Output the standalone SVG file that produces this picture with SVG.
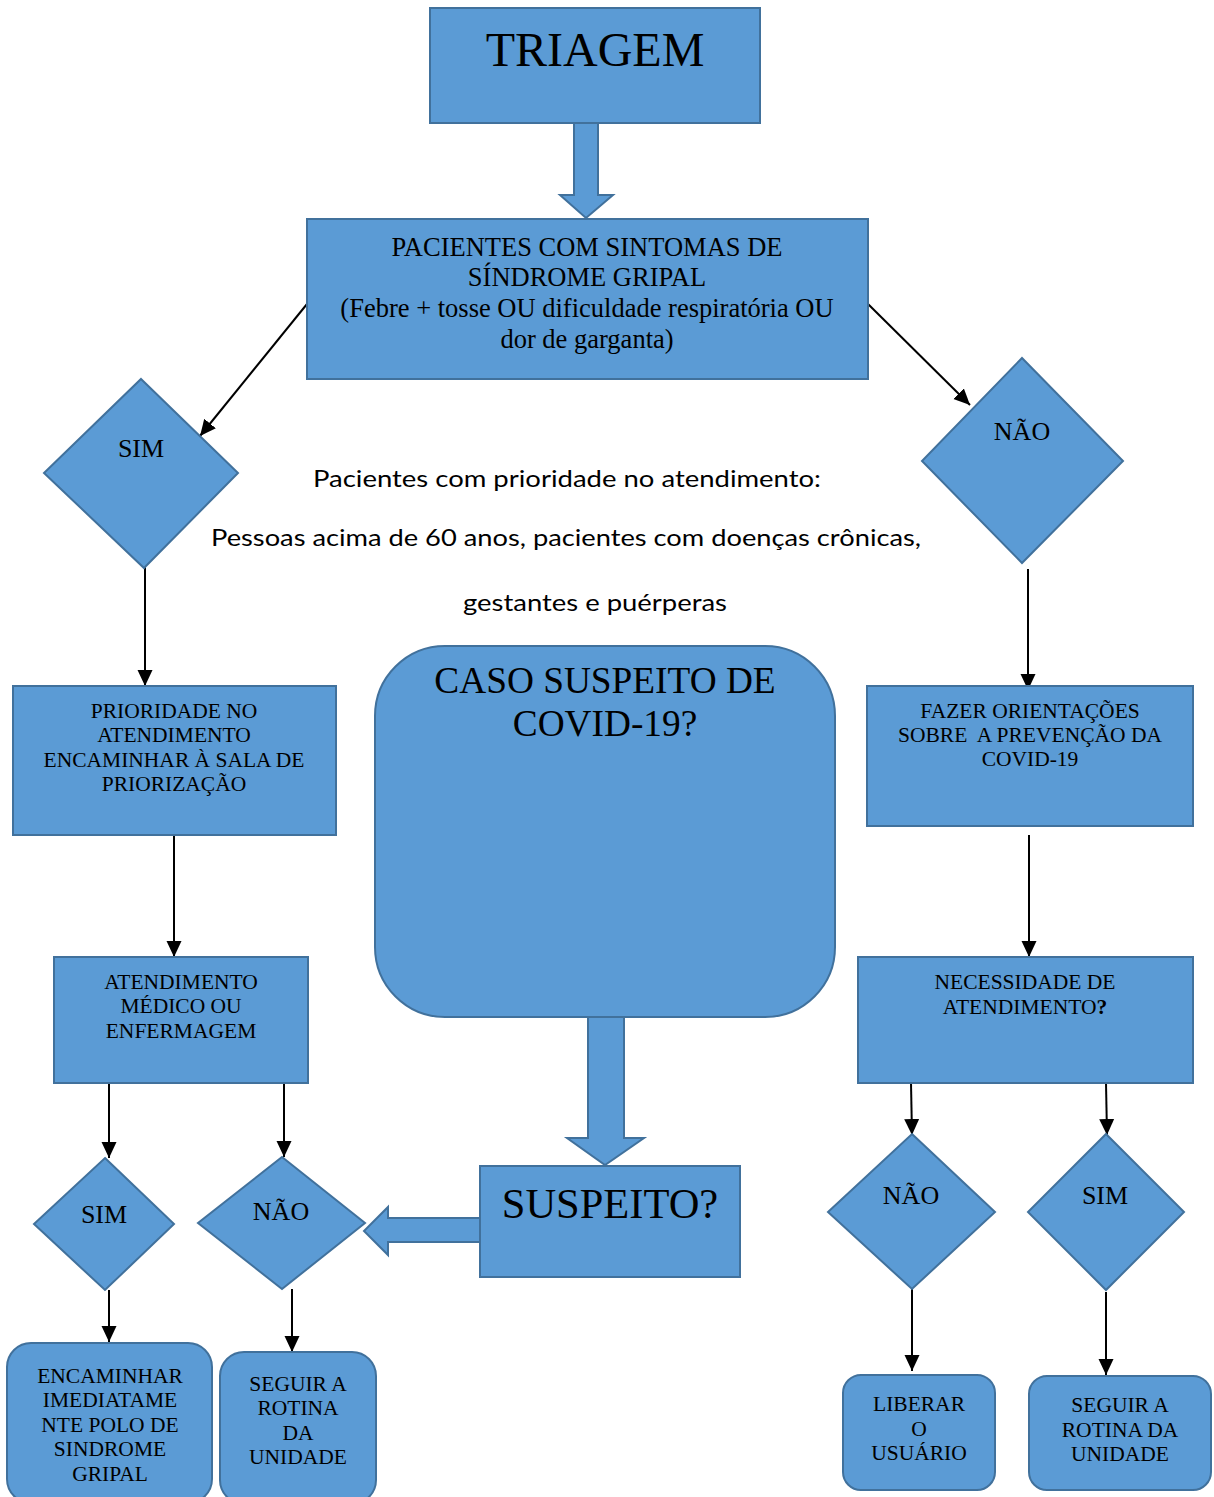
<svg xmlns="http://www.w3.org/2000/svg" width="1214" height="1497" viewBox="0 0 1214 1497">
<defs>
<marker id="ah" markerUnits="userSpaceOnUse" markerWidth="18" markerHeight="16" refX="16" refY="7.5" orient="auto" viewBox="0 0 18 15">
<path d="M0,0 L16,7.5 L0,15 z" fill="#000"/>
</marker>
<style>
.n{fill:#5B9BD5;stroke:#41719C;stroke-width:2}
.t{font-family:"Liberation Serif","Times New Roman",serif;fill:#000;text-anchor:middle}
.m{font-size:21.5px}
.d{font-size:26px}
.s{font-family:Lato,"Liberation Sans",sans-serif;fill:#000;text-anchor:middle;font-size:24px}
.c{stroke:#000;stroke-width:2;fill:none;marker-end:url(#ah)}
</style>
</defs>
<rect width="1214" height="1497" fill="#fff"/>

<g id="connectors">
<polygon class="n" points="574,123 598,123 598,195 613,195 586,218 560,195 574,195"/>
<polygon class="n" points="588,1016 624,1016 624,1138 644,1138 605,1165 567,1138 588,1138"/>
<polygon class="n" points="480,1218 388,1218 388,1207 364,1231 388,1255 388,1242 480,1242"/>
<line class="c" x1="307" y1="304" x2="200" y2="436"/>
<line class="c" x1="868" y1="304" x2="970" y2="405"/>
<line class="c" x1="145" y1="566" x2="145" y2="686"/>
<line class="c" x1="174" y1="835" x2="174" y2="957"/>
<line class="c" x1="1028" y1="569" x2="1028" y2="690"/>
<line class="c" x1="1029" y1="835" x2="1029" y2="957"/>
<line class="c" x1="109" y1="1083" x2="109" y2="1158"/>
<line class="c" x1="284" y1="1083" x2="284" y2="1157"/>
<line class="c" x1="109" y1="1290" x2="109" y2="1342"/>
<line class="c" x1="292" y1="1289" x2="292" y2="1352"/>
<line class="c" x1="911" y1="1083" x2="912" y2="1135"/>
<line class="c" x1="1106" y1="1083" x2="1107" y2="1135"/>
<line class="c" x1="912" y1="1289" x2="912" y2="1371"/>
<line class="c" x1="1106" y1="1292" x2="1106" y2="1375"/>
</g>

<g id="triagem">
<rect class="n" x="430" y="8" width="330" height="115"/>
<text class="t" x="595" y="66" font-size="48">TRIAGEM</text>
</g>

<g id="pacientes">
<rect class="n" x="307" y="219" width="561" height="160"/>
<text class="t" font-size="26.5"><tspan x="587" y="256">PACIENTES COM SINTOMAS DE</tspan><tspan x="587" y="286">SÍNDROME GRIPAL</tspan><tspan x="587" y="317">(Febre + tosse OU dificuldade respiratória OU</tspan><tspan x="587" y="348">dor de garganta)</tspan></text>
</g>

<g id="sim1">
<polygon class="n" points="141,379 238,473 144,568 44,473"/>
<text class="t d" x="141" y="457">SIM</text>
</g>

<g id="nao1">
<polygon class="n" points="1022,358 1123,461 1022,563 922,461"/>
<text class="t d" x="1022" y="440">NÃO</text>
</g>

<g id="prioridade-texto">
<text class="s" x="567" y="487" textLength="508" lengthAdjust="spacingAndGlyphs">Pacientes com prioridade no atendimento:</text>
<text class="s" x="566" y="546" textLength="710" lengthAdjust="spacingAndGlyphs">Pessoas acima de 60 anos, pacientes com doenças crônicas,</text>
<text class="s" x="595" y="611" textLength="264" lengthAdjust="spacingAndGlyphs">gestantes e puérperas</text>
</g>

<g id="prioridade">
<rect class="n" x="13" y="686" width="323" height="149"/>
<text class="t m"><tspan x="174" y="718">PRIORIDADE NO</tspan><tspan x="174" y="742">ATENDIMENTO</tspan><tspan x="174" y="767">ENCAMINHAR À SALA DE</tspan><tspan x="174" y="791">PRIORIZAÇÃO</tspan></text>
</g>

<g id="atendimento">
<rect class="n" x="54" y="957" width="254" height="126"/>
<text class="t m"><tspan x="181" y="989">ATENDIMENTO</tspan><tspan x="181" y="1013">MÉDICO OU</tspan><tspan x="181" y="1038">ENFERMAGEM</tspan></text>
</g>

<g id="fazer">
<rect class="n" x="867" y="686" width="326" height="140"/>
<text class="t m"><tspan x="1030" y="718">FAZER ORIENTAÇÕES</tspan><tspan x="1030" y="742" xml:space="preserve">SOBRE  A PREVENÇÃO DA</tspan><tspan x="1030" y="766">COVID-19</tspan></text>
</g>

<g id="necessidade">
<rect class="n" x="858" y="957" width="335" height="126"/>
<text class="t m"><tspan x="1025" y="989">NECESSIDADE DE</tspan><tspan x="1025" y="1014">ATENDIMENTO<tspan font-weight="bold">?</tspan></tspan></text>
</g>

<g id="caso">
<rect class="n" x="375" y="646" width="460" height="371" rx="70" ry="70"/>
<text class="t" font-size="37.3"><tspan x="605" y="693">CASO SUSPEITO DE</tspan><tspan x="605" y="736">COVID-19?</tspan></text>
</g>

<g id="suspeito">
<rect class="n" x="480" y="1166" width="260" height="111"/>
<text class="t" x="610" y="1218" font-size="42.5">SUSPEITO?</text>
</g>

<g id="sim2">
<polygon class="n" points="105,1158 174,1224 105,1290 34,1224"/>
<text class="t d" x="104" y="1223">SIM</text>
</g>

<g id="nao2">
<polygon class="n" points="282,1157 365,1223 282,1289 198,1223"/>
<text class="t d" x="281" y="1220">NÃO</text>
</g>

<g id="encaminhar">
<rect class="n" x="7" y="1343" width="205" height="160" rx="24" ry="24"/>
<text class="t m"><tspan x="110" y="1383">ENCAMINHAR</tspan><tspan x="110" y="1407">IMEDIATAME</tspan><tspan x="110" y="1432">NTE POLO DE</tspan><tspan x="110" y="1456">SINDROME</tspan><tspan x="110" y="1481">GRIPAL</tspan></text>
</g>

<g id="seguir1">
<rect class="n" x="220" y="1352" width="156" height="152" rx="24" ry="24"/>
<text class="t m"><tspan x="298" y="1391">SEGUIR A</tspan><tspan x="298" y="1415">ROTINA</tspan><tspan x="298" y="1440">DA</tspan><tspan x="298" y="1464">UNIDADE</tspan></text>
</g>

<g id="nao3">
<polygon class="n" points="912,1134 995,1212 912,1289 828,1212"/>
<text class="t d" x="911" y="1204">NÃO</text>
</g>

<g id="sim3">
<polygon class="n" points="1106,1134 1184,1212 1106,1290 1028,1212"/>
<text class="t d" x="1105" y="1204">SIM</text>
</g>

<g id="liberar">
<rect class="n" x="843" y="1375" width="152" height="115" rx="18" ry="18"/>
<text class="t m"><tspan x="919" y="1411">LIBERAR</tspan><tspan x="919" y="1436">O</tspan><tspan x="919" y="1460">USUÁRIO</tspan></text>
</g>

<g id="seguir2">
<rect class="n" x="1029" y="1376" width="182" height="114" rx="18" ry="18"/>
<text class="t m"><tspan x="1120" y="1412">SEGUIR A</tspan><tspan x="1120" y="1437">ROTINA DA</tspan><tspan x="1120" y="1461">UNIDADE</tspan></text>
</g>
</svg>
